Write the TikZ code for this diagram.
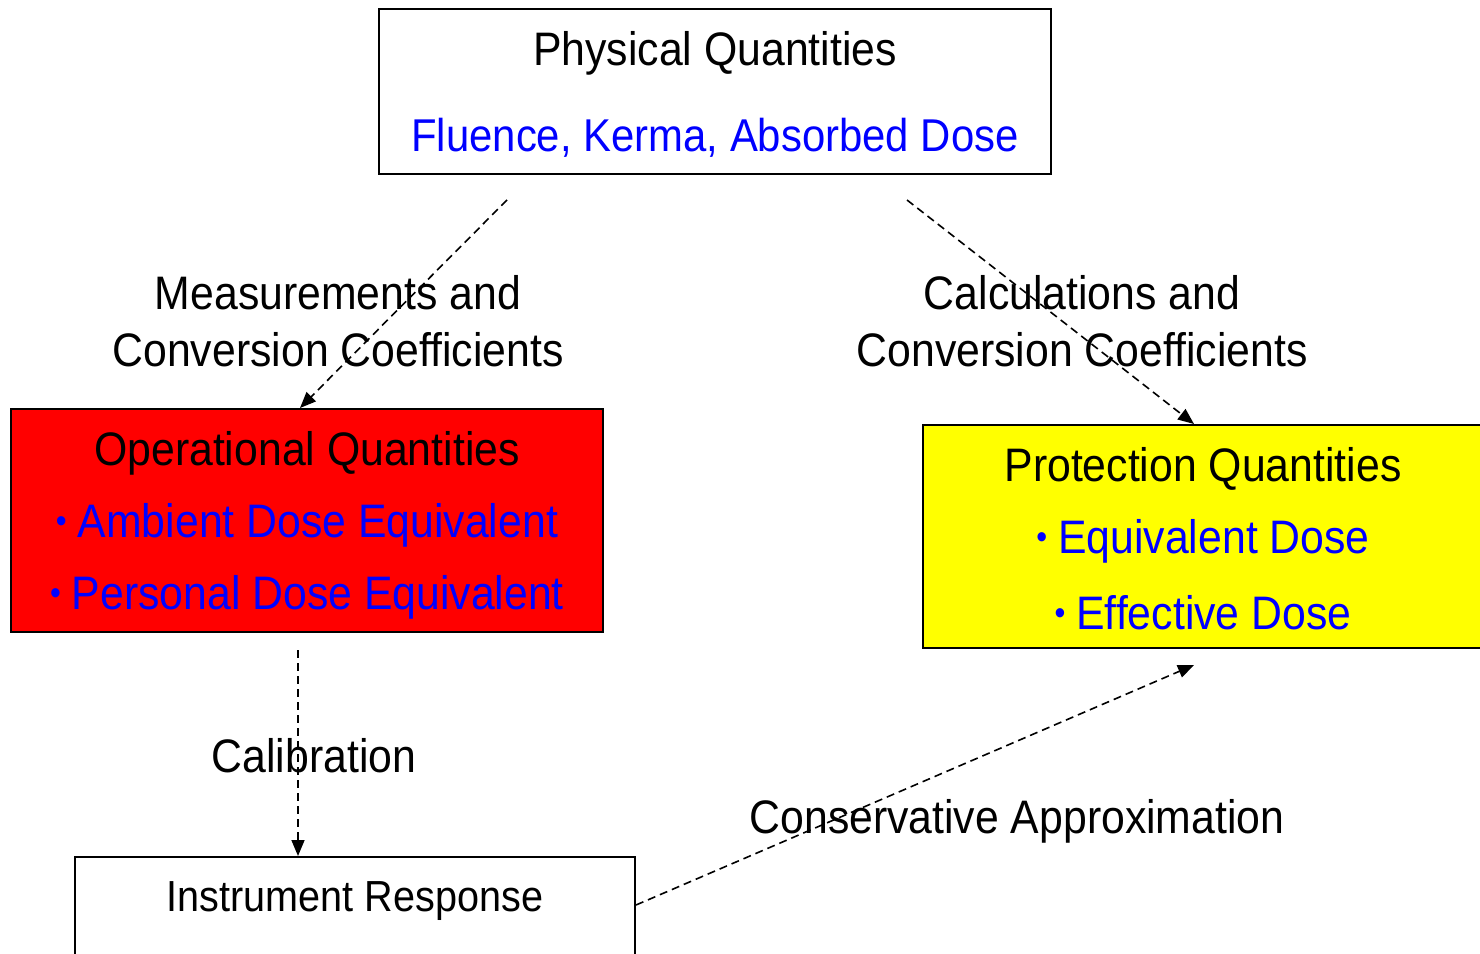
\documentclass[tikz,border=0pt]{standalone}
\usepackage{fontspec}
\setmainfont[FakeStretch=0.91]{Liberation Sans}
\usetikzlibrary{arrows.meta}
\definecolor{qblue}{RGB}{0,0,255}
\definecolor{qred}{RGB}{255,0,0}
\definecolor{qyellow}{RGB}{255,255,0}
\newcommand{\qbul}{{\fontsize{34}{34}\selectfont\raisebox{5pt}{•}}\hspace{11pt}}
\tikzset{
  qbox/.style={draw=black, line width=2pt},
  qtxt/.style={inner sep=0pt, anchor=center, font=\fontsize{47}{56}\selectfont},
  qblt/.style={qtxt, text=qblue},
  qarrow/.style={draw=black, line width=1.6pt, dash pattern=on 8pt off 5pt,
    -{Triangle[length=16pt,width=13pt]}}
}
\begin{document}
\begin{tikzpicture}[x=1pt,y=-1pt]
\useasboundingbox (0,0) rectangle (1480,953);
\clip (0,0) rectangle (1480,953);
\fill[white] (0,0) rectangle (1480,953);
% boxes
\draw[qbox, fill=white] (379,9) rectangle (1051,174);
\draw[qbox, fill=qred] (11,409) rectangle (603,632);
\draw[qbox, fill=qyellow] (923,425) rectangle (1490,648);
\draw[qbox, fill=white] (75,857) rectangle (635,970);
% box texts
\node[qtxt] (phys) at (715,53) {Physical Quantities};
\node[qblt, font=\fontsize{46}{56}\selectfont] (physl) at (715,138) {Fluence, Kerma, Absorbed Dose};
\node[qtxt] (oper) at (307,453) {Operational Quantities};
\node[qblt] (amb) at (307,525) {\qbul Ambient Dose Equivalent};
\node[qblt] (pers) at (307,597) {\qbul Personal Dose Equivalent};
\node[qtxt] (prot) at (1203,469) {Protection Quantities};
\node[qblt] (equ) at (1203,541) {\qbul Equivalent Dose};
\node[qblt] (eff) at (1203,613) {\qbul Effective Dose};
\node[qtxt, font=\fontsize{43.5}{52}\selectfont] (instr) at (355,901) {Instrument Response};
% arrow end points
\coordinate (a1s) at (507,200);
\coordinate (a1e) at (300,408);
\coordinate (a2s) at (907,200);
\coordinate (a2e) at (1194,424);
\coordinate (a3s) at (298,650);
\coordinate (a3e) at (298,856);
\coordinate (a4s) at (636,905);
\coordinate (a4e) at (1194,665);
\draw[qarrow] (a1s) -- (a1e);
\draw[qarrow] (a2s) -- (a2e);
\draw[qarrow] (a3s) -- (a3e);
\draw[qarrow] (a4s) -- (a4e);
% labels
\node[qtxt] (meas1) at (338,293) {Measurements and};
\node[qtxt] (meas2) at (338,350) {Conversion Coefficients};
\node[qtxt] (calc1) at (1082,293) {Calculations and};
\node[qtxt] (calc2) at (1082,350) {Conversion Coefficients};
\node[qtxt] (calib) at (314,756) {Calibration};
\node[qtxt] (cons) at (1017,821) {Conservative Approximation};
\end{tikzpicture}
\end{document}
